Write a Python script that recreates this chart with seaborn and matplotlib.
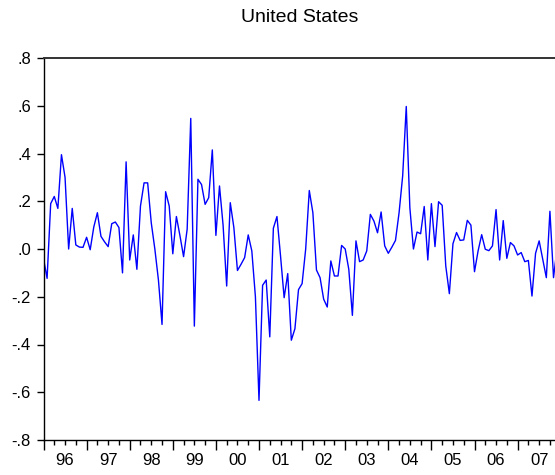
import numpy as np
import pandas as pd
import matplotlib
matplotlib.use("Agg")
import matplotlib.pyplot as plt
import seaborn as sns

# ---- data (monthly, Jan 1996 - Dec 2007) ----
start_year = 1996
values = [
    -0.040, -0.123, 0.190, 0.220, 0.170, 0.395, 0.300, 0.000, 0.170, 0.017, 0.008, 0.007,
    0.049, -0.003, 0.092, 0.152, 0.053, 0.030, 0.010, 0.106, 0.113, 0.090, -0.100, 0.365,
    -0.046, 0.059, -0.085, 0.180, 0.277, 0.277, 0.110, 0.000, -0.130, -0.316, 0.240, 0.180,
    -0.020, 0.136, 0.055, -0.032, 0.083, 0.547, -0.323, 0.292, 0.270, 0.187, 0.215, 0.415,
    0.057, 0.264, 0.100, -0.155, 0.194, 0.090, -0.090, -0.064, -0.036, 0.059, -0.008, -0.200,
    -0.634, -0.152, -0.130, -0.368, 0.087, 0.136, -0.030, -0.204, -0.103, -0.382, -0.334, -0.170,
    -0.145, 0.000, 0.245, 0.152, -0.088, -0.120, -0.210, -0.243, -0.050, -0.113, -0.113, 0.015,
    0.000, -0.085, -0.278, 0.034, -0.053, -0.046, -0.008, 0.145, 0.117, 0.068, 0.155, 0.013,
    -0.018, 0.008, 0.036, 0.152, 0.306, 0.597, 0.173, 0.000, 0.071, 0.064, 0.178, -0.046,
    0.190, 0.010, 0.198, 0.183, -0.071, -0.187, 0.022, 0.069, 0.036, 0.038, 0.120, 0.100,
    -0.095, -0.008, 0.060, -0.001, -0.007, 0.013, 0.165, -0.046, 0.119, -0.039, 0.027, 0.013,
    -0.025, -0.015, -0.053, -0.048, -0.197, -0.018, 0.034, -0.043, -0.120, 0.158, -0.120, 0.005,
]
year_labels = ["96", "97", "98", "99", "00", "01", "02", "03", "04", "05", "06", "07"]
y_ticks = [0.8, 0.6, 0.4, 0.2, 0.0, -0.2, -0.4, -0.6, -0.8]
y_tick_labels = [".8", ".6", ".4", ".2", ".0", "-.2", "-.4", "-.6", "-.8"]
title = "United States"

month_index = np.arange(len(values))
df = pd.DataFrame({"t": start_year + month_index / 12.0, "v": values})

sns.set_style("ticks")
plt.rcParams["font.family"] = ["Liberation Sans", "DejaVu Sans"]

fig = plt.figure(figsize=(5.55, 4.75), dpi=100)
ax = fig.add_axes([43.5 / 555, 35 / 475, 517.2 / 555, 382 / 475])

sns.lineplot(data=df, x="t", y="v", ax=ax, color="#0000ff", linewidth=1.0)

ax.set_xlim(start_year, start_year + 12)
ax.set_ylim(-0.8, 0.8)
ax.set_xlabel("")
ax.set_ylabel("")

# y axis
ax.set_yticks(y_ticks)
ax.set_yticklabels(y_tick_labels, fontsize=12)
ax.tick_params(axis="y", direction="out", length=5, width=1, pad=4, colors="black")

# x axis: year ticks (major), quarter ticks (minor), labels centred in each year
years = np.arange(start_year, start_year + 13)
ax.set_xticks(years)
ax.set_xticklabels([])
ax.set_xticks(np.arange(start_year, start_year + 12.01, 0.25), minor=True)
ax.tick_params(axis="x", which="major", direction="out", length=7, width=1, colors="black")
ax.tick_params(axis="x", which="minor", direction="out", length=3.5, width=1, colors="black")
for k, lab in enumerate(year_labels):
    ax.annotate(lab, xy=(start_year + k + 0.5, 0), xycoords=("data", "axes fraction"),
                xytext=(0, -15), textcoords="offset points", ha="center", va="center",
                fontsize=12, color="black")

for side in ["left", "bottom", "top", "right"]:
    ax.spines[side].set_visible(True)
    ax.spines[side].set_color("black")
    ax.spines[side].set_linewidth(1.0)
ax.spines["top"].set_linewidth(1.4)
ax.spines["top"].set_color("#333333")

fig.text(299.3 / 555, 1 - 17.3 / 475, title, ha="center", va="center", fontsize=14,
         color="black")

fig.savefig("out.png", dpi=100)
